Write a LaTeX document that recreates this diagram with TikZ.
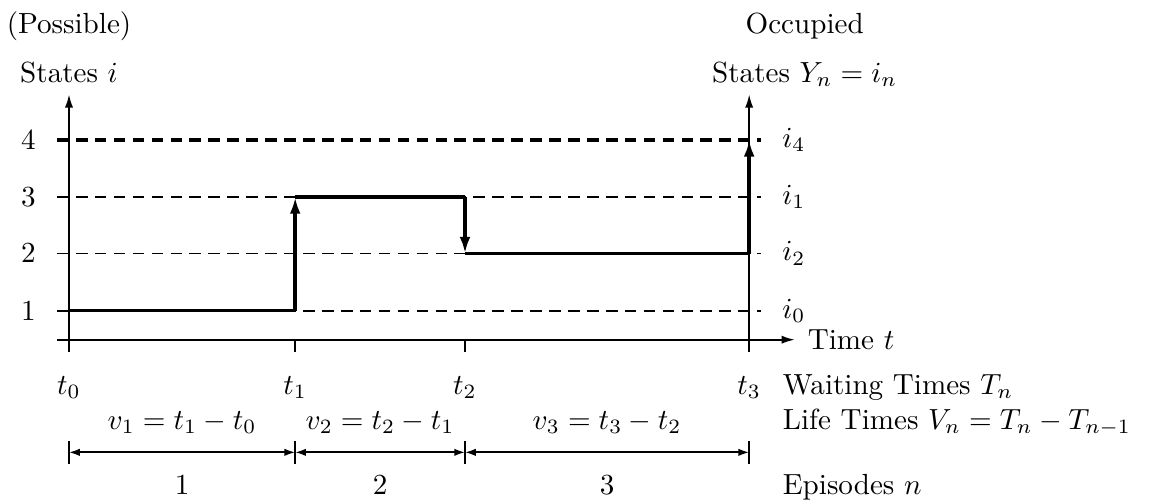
\documentclass[tikz,border=0pt]{standalone}
\usepackage{amsmath,amssymb}
\usetikzlibrary{arrows.meta,positioning,calc}

\begin{document}
\begin{tikzpicture}[
  axis/.style={line width=0.6pt, -{Latex[length=1.6mm,width=1mm]}},
  tick/.style={line width=0.6pt},
  level/.style={line width=0.6pt, dash pattern=on 4pt off 2.5pt},
  toplevel/.style={line width=1.2pt, dash pattern=on 4pt off 2.5pt},
  stay/.style={line width=1.2pt},
  jump/.style={line width=1.2pt, -{Latex[length=2mm,width=1.3mm]}},
  dim/.style={line width=0.6pt, {Latex[length=1.3mm,width=0.9mm]}-{Latex[length=1.3mm,width=0.9mm]}},
  lab/.style={inner sep=1pt},
  row/.style={inner sep=0pt, anchor=base},
  rowlabel/.style={inner sep=0pt, anchor=base west},
]
  \useasboundingbox (-0.833,-1.93) rectangle (13.06,4.10);

  % time points on the time axis
  \coordinate (t0) at (0,0);
  \coordinate (t1) at (2.73,0);
  \coordinate (t2) at (4.78,0);
  \coordinate (t3) at (8.21,0);

  % state levels
  \coordinate (s1) at (0,0.35);
  \coordinate (s2) at (0,1.04);
  \coordinate (s3) at (0,1.72);
  \coordinate (s4) at (0,2.41);

  % dashed state levels across the plot
  \foreach \s in {1,2,3}
    \draw[level] ($(s\s)+(-0.145,0)$) -- ($(s\s)+(8.35,0)$);
  \draw[toplevel] ($(s4)+(-0.145,0)$) -- ($(s4)+(8.35,0)$);

  % axes
  \coordinate (xstart) at (-0.145,0);
  \coordinate (xend) at (8.76,0);
  \draw[axis] (xstart) -- (xend);
  \draw[axis] ($(t0)+(0,-0.145)$) -- ($(t0)+(0,2.96)$);
  \draw[axis] ($(t3)+(0,-0.145)$) -- ($(t3)+(0,2.96)$);
  \draw[tick] (t1) -- ++(0,-0.145);
  \draw[tick] (t2) -- ++(0,-0.145);

  % path of the process
  \draw[stay] (t0 |- s1) -- (t1 |- s1);
  \draw[jump] (t1 |- s1) -- (t1 |- s3);
  \draw[stay] (t1 |- s3) -- (t2 |- s3);
  \draw[jump] (t2 |- s3) -- (t2 |- s2);
  \draw[stay] (t2 |- s2) -- (t3 |- s2);
  \draw[jump] (t3 |- s2) -- (t3 |- s4);

  % state labels, left
  \foreach \s in {1,2,3,4}
    \node[lab] (n\s) at ($(s\s)+(-0.49,0)$) {$\s$};
  \node[row] (possible) at (0,3.70) {(Possible)};
  \node[row] (states) at (0,3.10) {States $i$};

  % state labels, right
  \node[lab] (i4) at ($(s4)+(8.75,0)$) {$i_4$};
  \node[lab] (i1) at ($(s3)+(8.75,0)$) {$i_1$};
  \node[lab] (i2) at ($(s2)+(8.75,0)$) {$i_2$};
  \node[lab] (i0) at ($(s1)+(8.75,0)$) {$i_0$};
  \node[row] (occupied) at (8.88,3.70) {Occupied};
  \node[row] (occstates) at (8.88,3.11) {States $Y_n=i_n$};
  \node[rowlabel] (time) at (8.91,-0.12) {Time $t$};

  % waiting times
  \foreach \k in {0,1,2,3}
    \node[row] (w\k) at ($(t\k)+(0,-0.66)$) {$t_\k$};
  \node[rowlabel] (waiting) at (8.61,-0.66) {Waiting Times $T_n$};

  % life times
  \node[row] (v1) at ($(t0)!0.5!(t1)+(0,-1.08)$) {$v_1=t_1-t_0$};
  \node[row] (v2) at ($(t1)!0.5!(t2)+(0,-1.08)$) {$v_2=t_2-t_1$};
  \node[row] (v3) at ($(t2)!0.5!(t3)+(0,-1.08)$) {$v_3=t_3-t_2$};
  \node[rowlabel] (life) at (8.61,-1.08) {Life Times $V_n=T_n-T_{n-1}$};

  % episode spans
  \foreach \k in {0,1,2,3}
  {
    \coordinate (d\k) at ($(t\k)+(0,-1.36)$);
    \draw[tick] ($(d\k)+(0,0.135)$) -- ($(d\k)+(0,-0.135)$);
  }
  \draw[dim] (d0) -- (d1);
  \draw[dim] (d1) -- (d2);
  \draw[dim] (d2) -- (d3);

  \node[row] (e1) at ($(t0)!0.5!(t1)+(0,-1.87)$) {1};
  \node[row] (e2) at ($(t1)!0.5!(t2)+(0,-1.87)$) {2};
  \node[row] (e3) at ($(t2)!0.5!(t3)+(0,-1.87)$) {3};
  \node[rowlabel] (episodes) at (8.61,-1.87) {Episodes $n$};

\end{tikzpicture}
\end{document}
